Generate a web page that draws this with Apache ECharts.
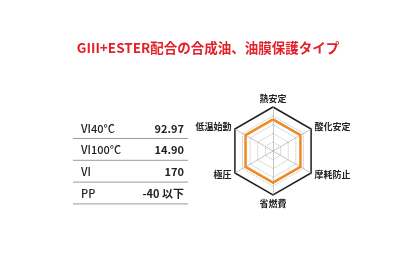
<!DOCTYPE html>
<html><head><meta charset="utf-8">
<script src="https://cdn.jsdelivr.net/npm/echarts@6/dist/echarts.min.js"></script>
<style>html,body{margin:0;padding:0;background:#fff}#c{width:416px;height:257px}</style>
</head><body><div id="c"></div>
<script>
const titleText = 'GIII+ESTER配合の合成油、油膜保護タイプ';
const tableLabels = ['VI40°C', 'VI100°C', 'VI', 'PP'];
const tableValues = ['92.97', '14.90', '170', '-40 以下'];
const radarNames = ['熱安定', '低温始動', '極圧', '省燃費', '摩耗防止', '酸化安定'];
const radarMax = [100, 100, 100, 100, 100, 100];
const radarValues = [72, 72, 72, 72, 72, 72];

const chart = echarts.init(document.getElementById('c'), null, {renderer: 'canvas'});
const font = '"Noto Sans CJK JP", "Noto Sans", sans-serif';
const graphics = [];
tableLabels.forEach((lab, i) => {
  const y = 130 + i * 21.8;
  graphics.push({type: 'text', left: 81, top: y - 7, style: {text: lab, font: '500 11px ' + font, fill: '#222'}});
  graphics.push({type: 'text', right: 416 - 184, top: y - 7, style: {text: tableValues[i], font: 'bold 11px ' + font, fill: '#222', textAlign: 'right'}});
  graphics.push({type: 'line', shape: {x1: 73, y1: y + 8.5, x2: 188, y2: y + 8.5}, style: {stroke: '#9a9a9a', lineWidth: 1}});
});
const indicators = radarNames.map((n, i) => ({name: n, max: radarMax[i]}));
chart.setOption({
  animation: false,
  backgroundColor: '#fff',
  title: {text: titleText, left: 'center', top: 36, textStyle: {color: '#e4202a', fontSize: 13.5, fontWeight: 'bold', fontFamily: font}},
  graphic: graphics,
  radar: [{
    center: [273, 151],
    radius: 44,
    startAngle: 90,
    splitNumber: 5,
    shape: 'polygon',
    nameGap: 4,
    axisName: {color: '#222', fontSize: 9, fontWeight: 'bold', fontFamily: font},
    indicator: indicators,
    splitArea: {show: false},
    axisLine: {lineStyle: {color: '#bbb', type: 'dotted', width: 1}},
    splitLine: {lineStyle: {color: '#bbb', type: 'dotted', width: 1}}
  }, {
    center: [273, 151],
    radius: 44,
    startAngle: 90,
    splitNumber: 1,
    shape: 'polygon',
    axisName: {show: false},
    indicator: indicators,
    splitArea: {show: false},
    axisLine: {show: false},
    splitLine: {lineStyle: {color: '#222', type: 'solid', width: 1.5}}
  }],
  series: [{
    type: 'radar',
    radarIndex: 0,
    symbol: 'none',
    lineStyle: {color: '#f08a24', width: 2.5},
    data: [{value: radarValues}]
  }]
});
</script></body></html>
